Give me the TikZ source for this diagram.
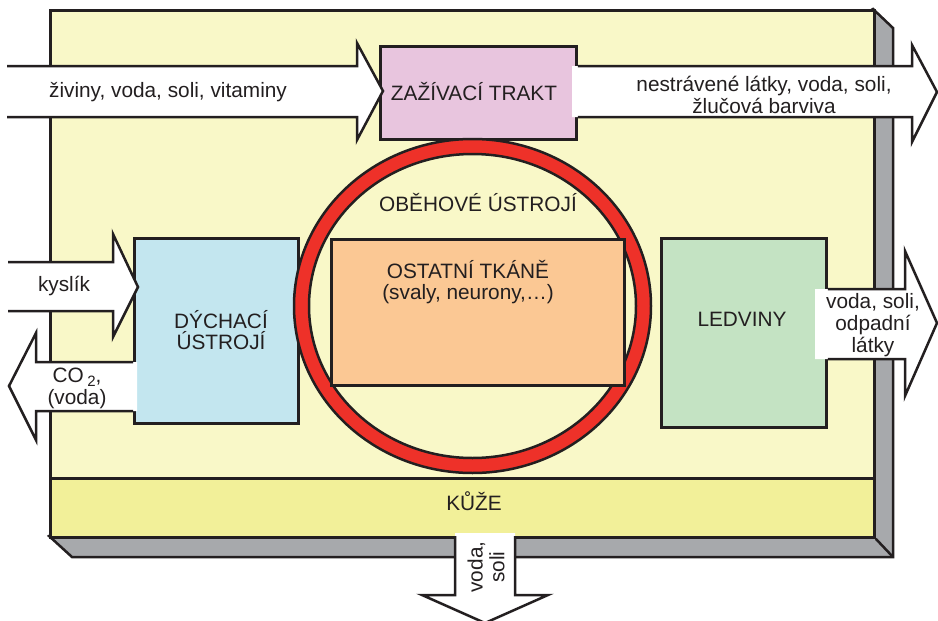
\documentclass[tikz,border=0pt]{standalone}
\usepackage{fontspec}
\setmainfont{Liberation Sans}
\definecolor{ink}{HTML}{231F20}
\definecolor{bodyfill}{HTML}{F9F8C8}
\definecolor{skinfill}{HTML}{F2F099}
\definecolor{shadowgray}{HTML}{A7A9AC}
\definecolor{gutfill}{HTML}{E8C5DE}
\definecolor{lungfill}{HTML}{C3E6EF}
\definecolor{kidneyfill}{HTML}{C4E3C3}
\definecolor{tissuefill}{HTML}{FBC894}
\definecolor{bloodred}{HTML}{EE3129}
\begin{document}
\begin{tikzpicture}[x=1pt,y=-1pt,
  outline/.style={draw=ink, line width=2.8pt, line join=miter},
  organ/.style={outline, rectangle, inner sep=0pt, anchor=north west},
  lbl/.style={text=ink, font=\fontsize{20.8}{21.8}\selectfont, align=center, inner sep=0pt},
  arrowedge/.style={draw=ink, line width=2.5pt, line join=miter, miter limit=20},
  arrowfill/.style={fill=white},
]
\useasboundingbox (0,0) rectangle (938,621);

% drop shadow of the body
\filldraw[shadowgray, draw=ink, line width=2.5pt, line join=miter]
  (873,9) -- (893,28) -- (893,557) -- (72,557) -- (49,536) -- cycle;

% body and skin layer
\node[organ, fill=bodyfill, minimum width=824pt, minimum height=527pt] (body) at (49,9) {};
\node[organ, fill=skinfill, minimum width=824pt, minimum height=59pt] (skin) at (49,477) {};
\draw[ink, line width=2.5pt] (skin.south east) -- (893,557);

% organs
\node[organ, fill=gutfill, minimum width=196pt, minimum height=93pt] (gut) at (379,45) {};
\node[organ, fill=lungfill, minimum width=164pt, minimum height=185pt] (lungs) at (133,237) {};
\node[organ, fill=kidneyfill, minimum width=165pt, minimum height=189pt] (kidneys) at (660,237) {};

% circulation ring
\coordinate (heart) at (472.5,306);
\fill[bloodred, even odd rule]
  (heart) ellipse [x radius=178.5pt, y radius=167pt]
  (heart) ellipse [x radius=163.5pt, y radius=152pt];
\draw[ink, line width=2.5pt] (heart) ellipse [x radius=178.5pt, y radius=167pt];
\draw[ink, line width=2.5pt] (heart) ellipse [x radius=163.5pt, y radius=152pt];

\node[organ, fill=tissuefill, minimum width=293pt, minimum height=146pt] (tissue) at (330,238) {};

% intake into the gut
\fill[arrowfill] (0,66) -- (357,66) -- (357,43) -- (383,91) -- (357,140) -- (357,117) -- (0,117) -- cycle;
\draw[arrowedge] (7,66) -- (357,66) -- (357,43) -- (383,91) -- (357,140) -- (357,117) -- (7,117);

% output of the gut
\fill[arrowfill] (572,66) -- (912,66) -- (912,45) -- (937,92) -- (912,142) -- (912,117) -- (572,117) -- cycle;
\draw[arrowedge] (gut.east |- 0,66) -- (912,66) -- (912,45) -- (937,92) -- (912,142) -- (912,117) -- (gut.east |- 0,117);

% oxygen in
\fill[arrowfill] (0,262) -- (113,262) -- (113,234) -- (138,287) -- (113,337) -- (113,311) -- (0,311) -- cycle;
\draw[arrowedge] (8,262) -- (113,262) -- (113,234) -- (138,287) -- (113,337) -- (113,311) -- (8,311);

% CO2 out
\fill[arrowfill] (137,362) -- (36,362) -- (36,333) -- (9,386) -- (36,440) -- (36,411) -- (137,411) -- cycle;
\draw[arrowedge] (lungs.west |- 0,362) -- (36,362) -- (36,333) -- (9,386) -- (36,440) -- (36,411) -- (lungs.west |- 0,411);

% urine out
\fill[arrowfill] (815,289) -- (905,289) -- (905,251) -- (937,323) -- (905,396) -- (905,359) -- (815,359) -- cycle;
\draw[arrowedge] (kidneys.east |- 0,289) -- (905,289) -- (905,251) -- (937,323) -- (905,396) -- (905,359) -- (kidneys.east |- 0,359);

% sweat out
\fill[arrowfill] (455,533) -- (455,595) -- (422,595) -- (485,623) -- (548,595) -- (515,595) -- (515,533) -- cycle;
\draw[arrowedge] (455,536) -- (455,595) -- (422,595) -- (485,623) -- (548,595) -- (515,595) -- (515,536);

% labels
\node[lbl] (tIn) at (168,92) {živiny, voda, soli, vitaminy};
\node[lbl] (tGut) at (474,92) {ZAŽÍVACÍ TRAKT};
\node[lbl] (tGutOut) at (764,95) {nestrávené látky, voda, soli,\\žlučová barviva};
\node[lbl] (tO2) at (64,286) {kyslík};
\node[lbl] (tCO2) at (77,388) {CO\,\raisebox{-0.35ex}{\fontsize{15}{15}\selectfont 2},\\(voda)};
\node[lbl] (tLungs) at (221,330) {DÝCHACÍ\\ÚSTROJÍ};
\node[lbl] (tBlood) at (478,203) {OBĚHOVÉ ÚSTROJÍ};
\node[lbl] (tTissue) at (468,282) {OSTATNÍ TKÁNĚ\\(svaly, neurony,…)};
\node[lbl] (tKidneys) at (742,319) {LEDVINY};
\node[lbl] (tUrine) at (873,325) {voda, soli,\\odpadní\\látky};
\node[lbl] (tSkin) at (474,501) {KŮŽE};
\node[lbl, rotate=90] (tSweat) at (486,567) {voda,\\soli};
\end{tikzpicture}
\end{document}
